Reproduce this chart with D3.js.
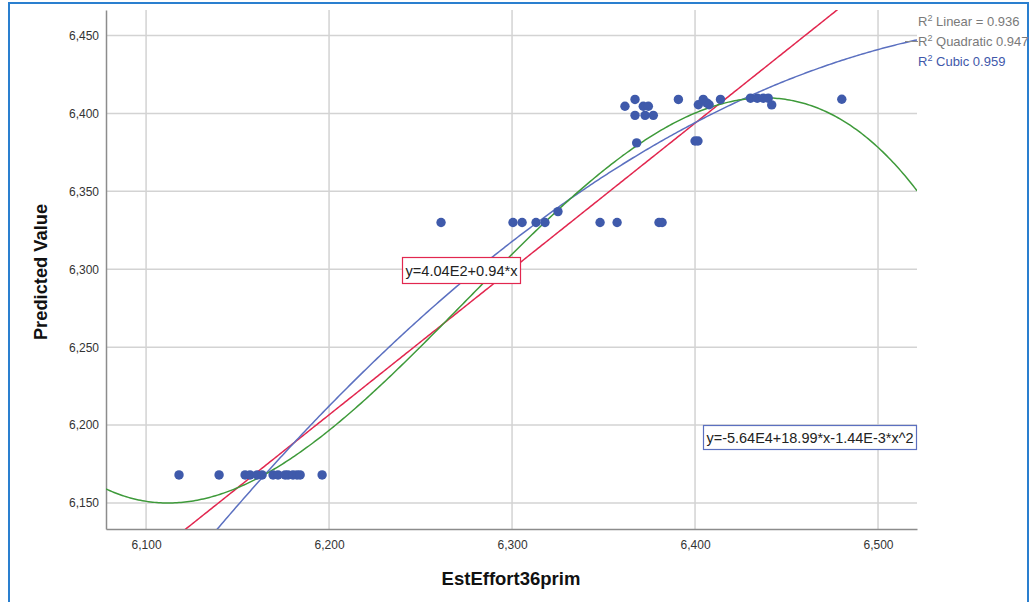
<!DOCTYPE html>
<html>
<head>
<meta charset="utf-8">
<script src="https://cdn.jsdelivr.net/npm/d3@7"></script>
<style>
  html, body { margin: 0; padding: 0; background: #fff; }
  svg { display: block; font-family: "Liberation Sans", Arial, sans-serif; }
</style>
</head>
<body>
<svg id="chart" width="1032" height="602"></svg>
<script>
// Observed cases: EstEffort36prim vs predicted value
const estEffort = [
  6118.0, 6139.9, 6154.1, 6156.8, 6160.7, 6163.4, 6169.4, 6172.1, 6176.0, 6177.6, 6180.3, 6182.5, 6184.2, 6196.2,
  6261.2, 6300.5, 6305.5, 6313.1, 6318.0, 6325.1, 6348.1, 6357.4, 6380.3, 6382.0,
  6361.7, 6367.2, 6371.7, 6374.5, 6367.2, 6372.7, 6377.2, 6368.1, 6390.9, 6400.0, 6401.6,
  6401.8, 6404.5, 6406.4, 6407.7, 6413.9, 6430.3, 6434.0, 6437.3, 6440.0, 6441.9, 6480.2
];
const predicted = [
  6168, 6168, 6168, 6168, 6168, 6168, 6168, 6168, 6168, 6168, 6168, 6168, 6168, 6168,
  6330, 6330, 6330, 6330, 6330, 6337, 6330, 6330, 6330, 6330,
  6404.6, 6409, 6404.6, 6404.6, 6398.8, 6398.8, 6398.8, 6381.1, 6409, 6382.3, 6382.3,
  6405.6, 6409, 6406.8, 6405.6, 6409, 6409.8, 6409.8, 6409.8, 6409.8, 6405.5, 6409.1
];

// Axis ticks
const xTicks = [6100, 6200, 6300, 6400, 6500];
const yTicks = [6150, 6200, 6250, 6300, 6350, 6400, 6450];

// Fitted curves: linear y = a + b*x; quadratic and cubic in powers of (x - center)
const linearCoef = [404, 0.9359];
const quadCenter = 6300;
const quadCoef = [6317.8, 0.9095, -0.001467];
const cubicCenter = 6275;
const cubicCoef = [6280, 1.1964, 0, -1.501e-5];

// Labels
const fitLegend = [
  { pre: "R", post: " Linear = 0.936", color: "#7a7a7a" },
  { pre: "R", post: " Quadratic 0.947", color: "#7a7a7a" },
  { pre: "R", post: " Cubic 0.959", color: "#3f58aa" }
];
const linearEqText = "y=4.04E2+0.94*x";
const quadEqText = "y=-5.64E4+18.99*x-1.44E-3*x^2";
const xTitle = "EstEffort36prim";
const yTitle = "Predicted Value";

const svg = d3.select("#chart");
const plot = { left: 106, right: 917, top: 10, bottom: 529 };

const x = d3.scaleLinear().domain([6078.1, 6521.3]).range([plot.left, plot.right]);
const y = d3.scaleLinear().domain([6133.3, 6466.4]).range([plot.bottom, plot.top]);

// Outer frame
svg.append("rect")
  .attr("x", 9).attr("y", 3).attr("width", 1019).attr("height", 640)
  .attr("fill", "none").attr("stroke", "#2a7fcf").attr("stroke-width", 2);

svg.append("defs").append("clipPath").attr("id", "plotClip")
  .append("rect")
  .attr("x", plot.left).attr("y", plot.top)
  .attr("width", plot.right - plot.left).attr("height", plot.bottom - plot.top);

// Grid lines
const grid = svg.append("g");
grid.selectAll("line.gx").data(xTicks).join("line")
  .attr("x1", d => x(d)).attr("x2", d => x(d))
  .attr("y1", plot.top).attr("y2", plot.bottom)
  .attr("stroke", "#d3d3d3").attr("stroke-width", 1.5);
grid.selectAll("line.gy").data(yTicks).join("line")
  .attr("x1", plot.left).attr("x2", plot.right)
  .attr("y1", d => y(d)).attr("y2", d => y(d))
  .attr("stroke", "#d3d3d3").attr("stroke-width", 1.5);

// Axes
const fmt = d3.format(",");
const xAxis = svg.append("g").attr("transform", `translate(0,${plot.bottom})`)
  .call(d3.axisBottom(x).tickValues(xTicks).tickFormat(fmt).tickSize(0).tickPadding(11));
const yAxis = svg.append("g").attr("transform", `translate(${plot.left},0)`)
  .call(d3.axisLeft(y).tickValues(yTicks).tickFormat(fmt).tickSize(0).tickPadding(7));
[xAxis, yAxis].forEach(a => {
  a.select(".domain").attr("stroke", "#8c8c8c").attr("stroke-width", 1.5);
  a.selectAll("text").attr("font-size", 12).attr("fill", "#333")
    .attr("font-family", "'Liberation Sans', Arial, sans-serif");
});

// Fitted curves
const samples = d3.range(0, 401).map(i => x.domain()[0] + (x.domain()[1] - x.domain()[0]) * i / 400);
const poly = (coef, c) => v => coef.reduce((s, k, i) => s + k * Math.pow(v - c, i), 0);
const curves = [
  { f: poly(linearCoef, 0), color: "#e2274f" },
  { f: poly(quadCoef, quadCenter), color: "#5b70c0" },
  { f: poly(cubicCoef, cubicCenter), color: "#3e9a3a" }
];
const line = d3.line().x(d => x(d[0])).y(d => y(d[1]));
const curveG = svg.append("g").attr("clip-path", "url(#plotClip)");
curves.forEach(cv => {
  curveG.append("path")
    .datum(samples.map(v => [v, cv.f(v)]))
    .attr("d", line)
    .attr("fill", "none")
    .attr("stroke", cv.color)
    .attr("stroke-width", 1.5);
});

// Points
svg.append("g").selectAll("circle")
  .data(estEffort.map((v, i) => [v, predicted[i]]))
  .join("circle")
  .attr("cx", d => x(d[0])).attr("cy", d => y(d[1]))
  .attr("r", 4.7)
  .attr("fill", "#3f5aab");

// Fit legend at upper right
const legend = svg.append("g");
svg.append("line")
  .attr("x1", 905).attr("x2", 918).attr("y1", 41.5).attr("y2", 41.5)
  .attr("stroke", "#8a8a8a").attr("stroke-width", 1);
fitLegend.forEach((d, i) => {
  const t = legend.append("text")
    .attr("x", 918).attr("y", 26 + i * 20)
    .attr("font-size", 13).attr("fill", d.color);
  t.append("tspan").text(d.pre);
  t.append("tspan").attr("font-size", 9).attr("dy", -5).text("2");
  t.append("tspan").attr("dy", 5).text(d.post);
});

// Equation labels
function eqBox(text, bx, by, w, h, stroke) {
  const g = svg.append("g");
  g.append("rect").attr("x", bx).attr("y", by).attr("width", w).attr("height", h)
    .attr("fill", "#fff").attr("stroke", stroke).attr("stroke-width", 1.2);
  g.append("text").attr("x", bx + 3).attr("y", by + h / 2 + 5)
    .attr("font-size", 14.4).attr("fill", "#222")
    .attr("textLength", w - 6).attr("lengthAdjust", "spacingAndGlyphs")
    .text(text);
}
eqBox(linearEqText, 402.5, 257.5, 118, 26, "#e2274f");
eqBox(quadEqText, 703.5, 425.5, 213, 24, "#5b70c0");

// Axis titles
svg.append("text")
  .attr("x", 511).attr("y", 585)
  .attr("text-anchor", "middle")
  .attr("font-size", 18.5).attr("font-weight", "bold").attr("fill", "#111")
  .text(xTitle);
svg.append("text")
  .attr("transform", "translate(47,272) rotate(-90)")
  .attr("text-anchor", "middle")
  .attr("font-size", 18.3).attr("font-weight", "bold").attr("fill", "#111")
  .text(yTitle);
</script>
</body>
</html>
